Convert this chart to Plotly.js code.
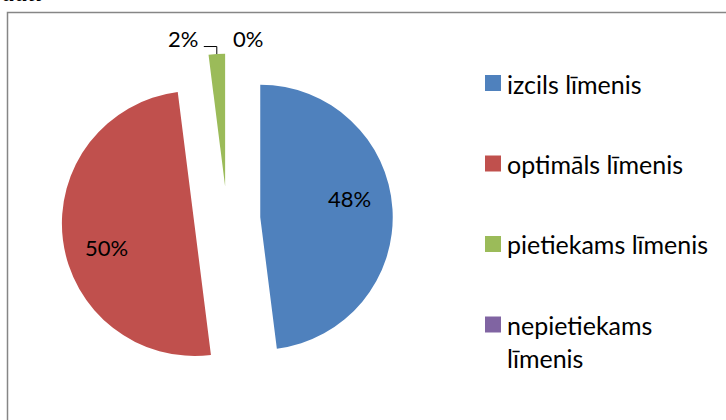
<!DOCTYPE html>
<html>
<head>
<meta charset="utf-8">
<script src="https://cdn.plot.ly/plotly-3.0.1.min.js"></script>
<style>html,body{margin:0;padding:0;background:#fff;}#chart{width:726px;height:420px;}</style>
</head>
<body>
<div id="chart"></div>
<script>
const categories = ["izcils līmenis", "optimāls līmenis", "pietiekams līmenis", "nepietiekams līmenis"];
const values = [48, 50, 2, 0];
const colors = ["#4F81BD", "#C0504D", "#9BBB59", "#8064A2"];
const legendLines = [["izcils līmenis"], ["optimāls līmenis"], ["pietiekams līmenis"], ["nepietiekams", "līmenis"]];

const W = 726, H = 420;
const FONT = "Lato, 'Open Sans', sans-serif";
const px = x => x / W;
const py = y => 1 - y / H;

// pie geometry (pixels)
const pieCx = 227.2, pieCy = 219.3, pieHalf = 165.6, pullFrac = 0.25;
const r = pieHalf / (1 + pullFrac);

const trace = {
  type: "pie",
  labels: categories,
  values: values,
  sort: false,
  direction: "clockwise",
  rotation: 0,
  pull: values.map(() => pullFrac),
  marker: {colors: colors, line: {width: 0}},
  textinfo: "none",
  domain: {x: [px(pieCx - pieHalf), px(pieCx + pieHalf)], y: [py(pieCy + pieHalf), py(pieCy - pieHalf)]},
  hoverinfo: "label+percent",
  showlegend: false
};

const annotations = [];
const shapes = [];

// border
shapes.push({
  type: "rect", xref: "paper", yref: "paper",
  x0: px(7.5), x1: 1.02, y0: -0.02, y1: py(12.5),
  line: {color: "#868686", width: 1.5}, fillcolor: "rgba(0,0,0,0)"
});

// data labels
const total = values.reduce((a, b) => a + b, 0);
let cum = 0, smallCount = 0;
values.forEach((v, i) => {
  const frac = v / total;
  const mid = (cum + frac / 2) * 2 * Math.PI;
  cum += frac;
  const pcx = pieCx + pullFrac * r * Math.sin(mid);
  const pcy = pieCy - pullFrac * r * Math.cos(mid);
  const txt = Math.round(frac * 100) + "%";
  if (frac >= 0.1) {
    const ang = mid - 8 * Math.PI / 180;
    const lx = pcx + 0.69 * r * Math.sin(ang);
    const ly = pcy - 0.69 * r * Math.cos(ang);
    annotations.push({xref: "paper", yref: "paper", x: px(lx), y: py(ly), xanchor: "center", yanchor: "middle",
      showarrow: false, text: txt, font: {family: FONT, size: 22, color: "#000"}});
  } else {
    const tx = pcx + r * Math.sin(mid);
    const ty = pcy - r * Math.cos(mid);
    const left = smallCount === 0;
    smallCount++;
    const lx = tx + (left ? -34 : 21);
    const ly = ty - 15.3;
    annotations.push({xref: "paper", yref: "paper", x: px(lx), y: py(ly), xanchor: "center", yanchor: "middle",
      showarrow: false, text: txt, font: {family: FONT, size: 22, color: "#000"}});
    if (left && v > 0) {
      const elbowY = ty - 7.5;
      shapes.push({type: "line", xref: "paper", yref: "paper", x0: px(tx), y0: py(ty), x1: px(tx), y1: py(elbowY),
        line: {color: "#000", width: 1}});
      shapes.push({type: "line", xref: "paper", yref: "paper", x0: px(tx), y0: py(elbowY), x1: px(lx + 21), y1: py(elbowY),
        line: {color: "#000", width: 1}});
    }
  }
});

// legend (drawn manually to match spacing)
const legX = 485, legTop = 75, legStep = 80.5, sq = 16, legFont = 25;
categories.forEach((c, i) => {
  const y0 = legTop + i * legStep;
  shapes.push({type: "rect", xref: "paper", yref: "paper", x0: px(legX), x1: px(legX + sq), y0: py(y0 + sq), y1: py(y0),
    line: {width: 0}, fillcolor: colors[i]});
  annotations.push({xref: "paper", yref: "paper", x: px(505), y: py(y0 + sq / 2 - 16.5), xanchor: "left", yanchor: "top",
    align: "left", showarrow: false, text: legendLines[i].join("<br>"),
    font: {family: FONT, size: legFont, color: "#000"}});
});

// cut-off caption at top-left
annotations.push({
  xref: "paper", yref: "paper", x: 0, y: py(8.5),
  xanchor: "left", yanchor: "bottom", showarrow: false,
  text: "<i>dati</i>",
  font: {family: "'Liberation Serif', serif", size: 26, color: "#000"}
});

const layout = {
  width: W, height: H,
  margin: {l: 0, r: 0, t: 0, b: 0},
  paper_bgcolor: "#fff",
  font: {family: FONT, size: 20, color: "#000"},
  showlegend: false,
  shapes: shapes,
  annotations: annotations
};

Plotly.newPlot("chart", [trace], layout, {displayModeBar: false, staticPlot: true});
</script>
</body>
</html>
